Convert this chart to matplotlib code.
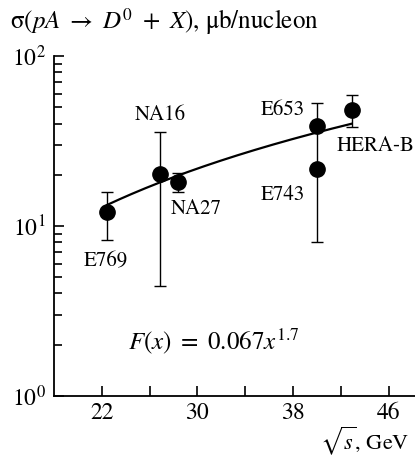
import matplotlib
matplotlib.use("Agg")
import matplotlib.pyplot as plt
import numpy as np
from matplotlib.ticker import FixedLocator, LogLocator, NullFormatter

experiments = ["E769", "NA16", "NA27", "E653", "E743", "HERA-B"]
sqrt_s = [22.45, 26.9, 28.4, 40.0, 40.0, 42.9]
sigma = [12.0, 20.2, 18.1, 38.9, 21.7, 47.8]
err_low = [8.2, 4.4, 15.9, 38.9, 8.0, 38.4]
err_high = [15.8, 35.9, 20.4, 53.0, 38.9, 59.0]

# fit shown on the plot: F(x) = 0.067 x^1.7
FIT_A = 0.067
FIT_B = 1.7

# label anchor positions (data coords) and alignment
label_pos = {
    "E769": (22.3, 6.2, "center"),
    "NA16": (26.9, 45.0, "center"),
    "NA27": (27.8, 12.6, "left"),
    "E653": (39.0, 48.1, "right"),
    "E743": (39.0, 15.2, "right"),
    "HERA-B": (41.65, 29.3, "left"),
}

plt.rcParams.update({
    "font.family": "STIXGeneral",
    "mathtext.fontset": "stix",
    "font.size": 17,
})

fig = plt.figure(figsize=(4.15, 4.59), dpi=100)
ax = fig.add_axes([0.130, 0.138, 0.870, 0.740])

s = np.array(sigma)
yerr = [s - np.array(err_low), np.array(err_high) - s]
ax.errorbar(sqrt_s, sigma, yerr=yerr, fmt="o", color="black", ms=11,
            ecolor="black", elinewidth=1.0, capsize=4.0, capthick=1.0, zorder=3)

xf = np.linspace(sqrt_s[0], sqrt_s[-1], 200)
ax.plot(xf, FIT_A * xf ** FIT_B, color="black", lw=1.6, zorder=2)

for name in experiments:
    x, y, ha = label_pos[name]
    ax.text(x, y, name, ha=ha, va="center", fontsize=15)

ax.text(24.2, 2.08, r"$F(x)\ =\ 0.067x^{1.7}$", ha="left", va="center", fontsize=18)

ax.set_yscale("log")
ax.set_ylim(1, 100)
ax.set_xlim(18.0, 48.2)
ax.yaxis.set_major_locator(FixedLocator([1, 10, 100]))
ax.set_yticklabels([r"$10^0$", r"$10^1$", r"$10^2$"])
ax.yaxis.set_minor_locator(LogLocator(base=10, subs=np.arange(2, 10)))
ax.yaxis.set_minor_formatter(NullFormatter())
ax.xaxis.set_major_locator(FixedLocator([22, 30, 38, 46]))
ax.xaxis.set_minor_locator(FixedLocator([26, 34, 42]))

for side in ("top", "right"):
    ax.spines[side].set_visible(False)
for side in ("left", "bottom"):
    ax.spines[side].set_linewidth(1.3)

ax.tick_params(axis="both", which="both", direction="in", width=1.2)
ax.tick_params(axis="y", which="major", length=7, pad=6, labelsize=17)
ax.tick_params(axis="y", which="minor", length=5.5)
ax.tick_params(axis="x", which="both", length=7, pad=5, labelsize=17)

fig.text(10 / 415, 1 - 22 / 459, r"σ($pA\ \rightarrow\ D^0\ +\ X$), μb/nucleon",
         ha="left", va="center", fontsize=18)
fig.text(409 / 415, 1 - 441 / 459, r"$\sqrt{s}$, GeV", ha="right", va="center", fontsize=16)

fig.savefig("out.png", dpi=100)
